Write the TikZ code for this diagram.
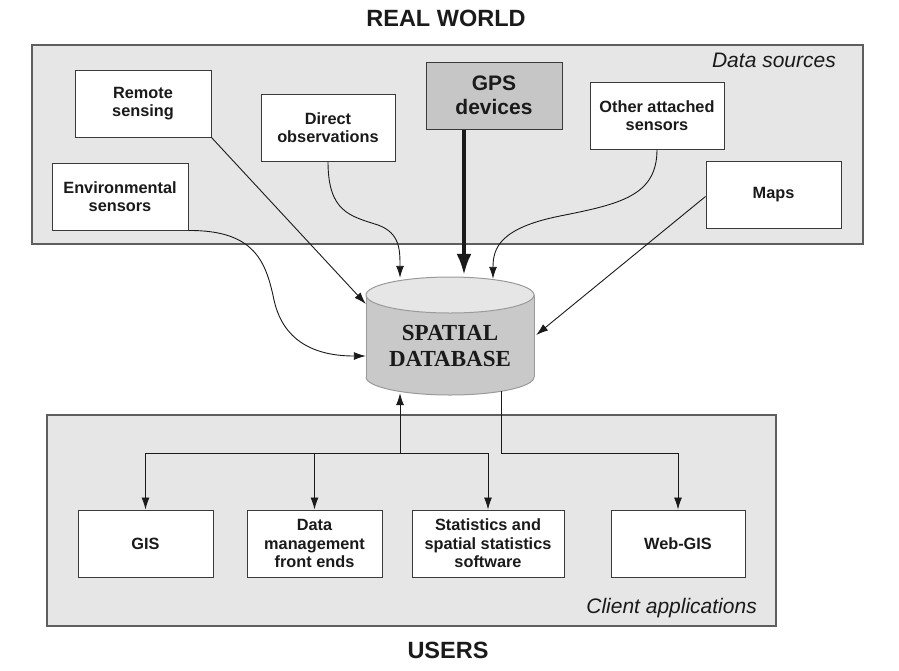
\documentclass[tikz,border=0pt]{standalone}
\usepackage{fontspec}
\setmainfont{Liberation Sans}
\newfontfamily\dbfont{Liberation Serif}
\usetikzlibrary{arrows.meta,calc}
\definecolor{panelfill}{HTML}{E6E6E6}
\definecolor{panelborder}{HTML}{5E5E5E}
\definecolor{boxborder}{HTML}{3A3A3A}
\definecolor{gpsfill}{HTML}{C6C6C6}
\definecolor{dbbody}{HTML}{C9C9C9}
\definecolor{dbtop}{HTML}{E6E6E6}
\definecolor{dbline}{HTML}{9A9A9A}
\definecolor{ink}{HTML}{1A1A1A}
\begin{document}
\begin{tikzpicture}[x=1pt,y=-1pt,
  panel/.style={draw=panelborder, fill=panelfill, line width=1.1pt, inner sep=0pt},
  srcbox/.style={draw=boxborder, fill=white, line width=1pt, align=center, text=ink,
    font=\fontsize{16.3}{18.5}\selectfont\bfseries, inner sep=0pt, minimum height=67pt},
  gpsbox/.style={srcbox, fill=gpsfill, font=\fontsize{21}{24}\selectfont\bfseries},
  conn/.style={draw=ink, line width=0.9pt, -{Latex[length=12pt,width=8pt]}},
  plain/.style={draw=ink, line width=0.9pt},
  heavy/.style={draw=ink, line width=3.4pt, -{Latex[length=21pt,width=15pt]}},
  title/.style={font=\fontsize{23.5}{27}\selectfont\bfseries, text=ink},
  plabel/.style={font=\fontsize{21}{24}\selectfont\itshape, text=ink, inner sep=0pt}
]
\fill[white] (0,0) rectangle (899,670);
\useasboundingbox (0,0) rectangle (899,670);

% titles
\node[title] (realworld) at (446,18) {REAL WORLD};
\node[title] (users) at (448,650) {USERS};

% panels
\node[panel, minimum width=831pt, minimum height=199pt] (sources) at (447.5,144.5) {};
\node[panel, minimum width=729pt, minimum height=211pt] (clients) at (411.5,520.5) {};
\node[plabel, anchor=east] (dslabel) at (836,60) {Data sources};
\node[plabel, anchor=east] (calabel) at (757,608) {Client applications};

% source boxes
\node[srcbox, minimum width=136pt] (remote) at (143,103.5) {Remote\\sensing};
\node[srcbox, minimum width=134pt] (direct) at (328,127.5) {Direct\\observations};
\node[srcbox, minimum width=136pt] (env) at (120,196.5) {Environmental\\sensors};
\node[gpsbox, minimum width=136pt] (gps) at (494,95.5) {GPS\\devices};
\node[srcbox, minimum width=134pt] (other) at (657,115.5) {Other attached\\sensors};
\node[srcbox, minimum width=135pt] (maps) at (773.5,194.5) {Maps};

% client boxes
\node[srcbox, minimum width=135pt] (gis) at (145.5,543.5) {GIS};
\node[srcbox, minimum width=135pt] (dm) at (314.5,543.5) {Data\\management\\front ends};
\node[srcbox, minimum width=152pt] (stats) at (488,543.5) {Statistics and\\spatial statistics\\software};
\node[srcbox, minimum width=134pt] (web) at (678,543.5) {Web-GIS};

% spatial database cylinder
\fill[dbbody] (366,295) rectangle (534,377);
\fill[dbbody] (450,377) ellipse [x radius=84, y radius=18];
\draw[dbline, line width=1pt] (366,295) -- (366,377);
\draw[dbline, line width=1pt] (534,295) -- (534,377);
\begin{scope}
  \clip (355,377) rectangle (545,400);
  \draw[dbline, line width=1pt] (450,377) ellipse [x radius=84, y radius=18];
\end{scope}
\filldraw[fill=dbtop, draw=dbline, line width=1pt] (450,295) ellipse [x radius=84, y radius=18];
\node[minimum width=168pt, minimum height=118pt, inner sep=0pt] (db) at (450,336) {};
\node[inner sep=0pt, align=center, text=ink,
  font=\dbfont\fontsize{23}{26}\selectfont\bfseries] (dblabel) at (450,346) {SPATIAL\\DATABASE};

% data source connectors
\draw[conn] (env.south east) .. controls (255,230) and (266,262) .. (274,300)
  .. controls (284,345) and (320,356) .. ($(db.west)+(0,20)$);
\draw[conn] (remote.south east) -- ($(db.west)+(0,-32)$);
\draw[conn] (direct.south) .. controls (328,212) and (350,216) .. (378,225)
  .. controls (400,233) and (400,250) .. ($(db.north)+(-50,1)$);
\draw[heavy] (gps.south -| 464,0) -- ($(db.north)+(14,-2)$);
\draw[conn] (other.south) .. controls (657,196) and (620,204) .. (560,216)
  .. controls (500,228) and (493,248) .. ($(db.north)+(43,2)$);
\draw[conn] ($(maps.west)+(0,2)$) -- ($(db.east)+(2,-1)$);

% client connectors
\coordinate (jl) at (400,453);
\coordinate (jr) at (501,453);
\draw[conn] (jl) -- ($(db.south)+(-50,-2)$);
\draw[plain] (gis.north |- jl) -- (stats.north |- jl);
\draw[conn] (gis.north |- jl) -- (gis.north);
\draw[conn] (dm.north |- jl) -- (dm.north);
\draw[conn] (stats.north |- jl) -- (stats.north);
\draw[plain] ($(db.south)+(51,-4)$) -- (jr) -- (web.north |- jr);
\draw[conn] (web.north |- jr) -- (web.north);
\end{tikzpicture}
\end{document}
